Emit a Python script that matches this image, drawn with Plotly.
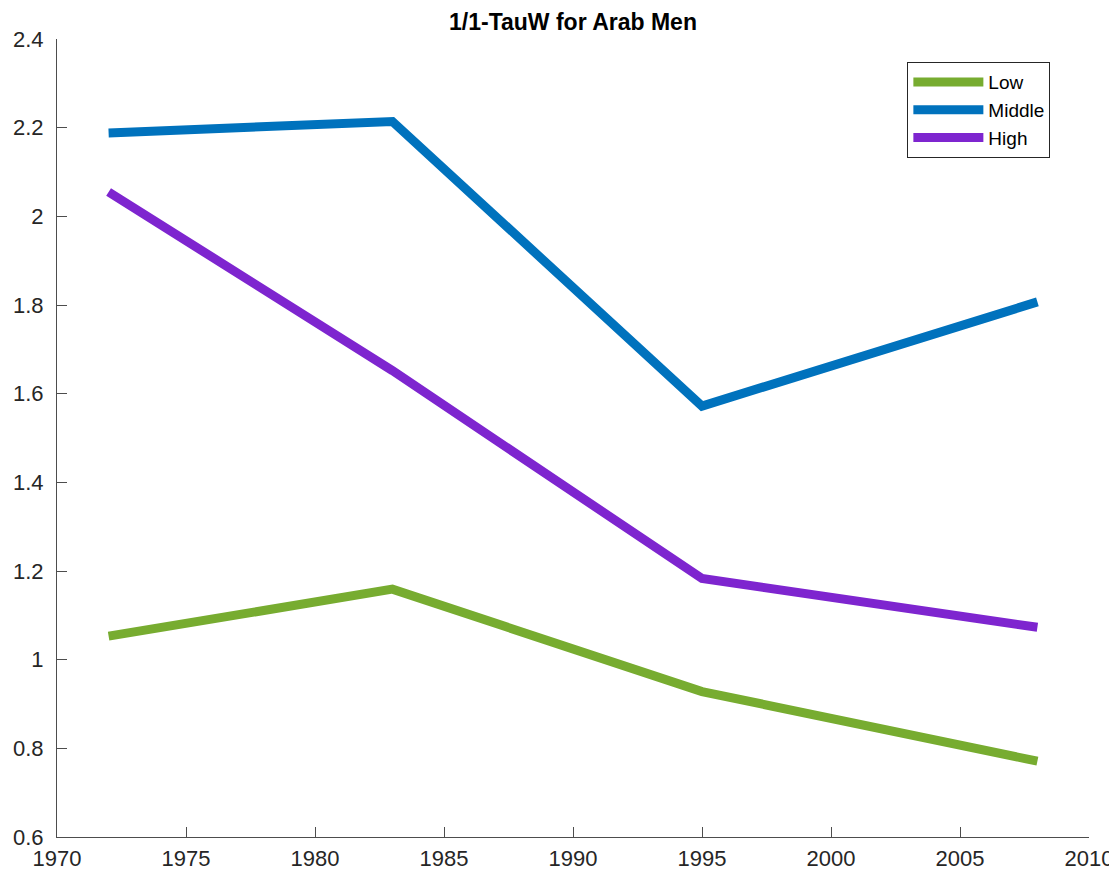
import plotly.graph_objects as go

years = [1972, 1983, 1995, 2008]
low = [1.053, 1.159, 0.928, 0.771]
middle = [2.188, 2.214, 1.572, 1.807]
high = [2.055, 1.652, 1.183, 1.073]

series_names = ["Low", "Middle", "High"]
series_values = [low, middle, high]
series_colors = ["#77AC30", "#0072BD", "#7E25CF"]

x_ticks = [1970, 1975, 1980, 1985, 1990, 1995, 2000, 2005, 2010]
y_ticks = [0.6, 0.8, 1.0, 1.2, 1.4, 1.6, 1.8, 2.0, 2.2, 2.4]

fig = go.Figure()
for name, vals, col in zip(series_names, series_values, series_colors):
    fig.add_trace(go.Scatter(x=years, y=vals, mode="lines", name=name,
                             line=dict(color=col, width=9)))

axis_common = dict(
    showgrid=False, zeroline=False, showline=True, linecolor="#4d4d4d", linewidth=1,
    ticks="inside", ticklen=10, tickcolor="#4d4d4d", tickwidth=1,
    tickfont=dict(family="Liberation Sans, Arial", size=22, color="#262626"),
    mirror=False, automargin=False,
)

fig.update_layout(
    width=1109, height=864,
    paper_bgcolor="white", plot_bgcolor="white",
    margin=dict(l=49, r=28, t=31, b=35),
    title=dict(text="<b>1/1-TauW for Arab Men</b>", x=0.5, xref="paper", xanchor="center",
               y=0.9838, yref="container", yanchor="middle",
               font=dict(family="Liberation Sans, Arial", size=23, color="black")),
    xaxis=dict(range=[1970, 2010], tickvals=x_ticks, ticklabelstandoff=2, **axis_common),
    yaxis=dict(range=[0.6, 2.4], tickvals=y_ticks, ticktext=[("%g" % v) for v in y_ticks],
               ticklabelstandoff=8, **axis_common),
    legend=dict(x=0.824, y=0.971, xanchor="left", yanchor="top",
                bgcolor="white", bordercolor="#262626", borderwidth=1,
                font=dict(family="Liberation Sans, Arial", size=19, color="black"),
                tracegroupgap=0, itemwidth=70),
    showlegend=True,
)

fig.write_html("out.html")
